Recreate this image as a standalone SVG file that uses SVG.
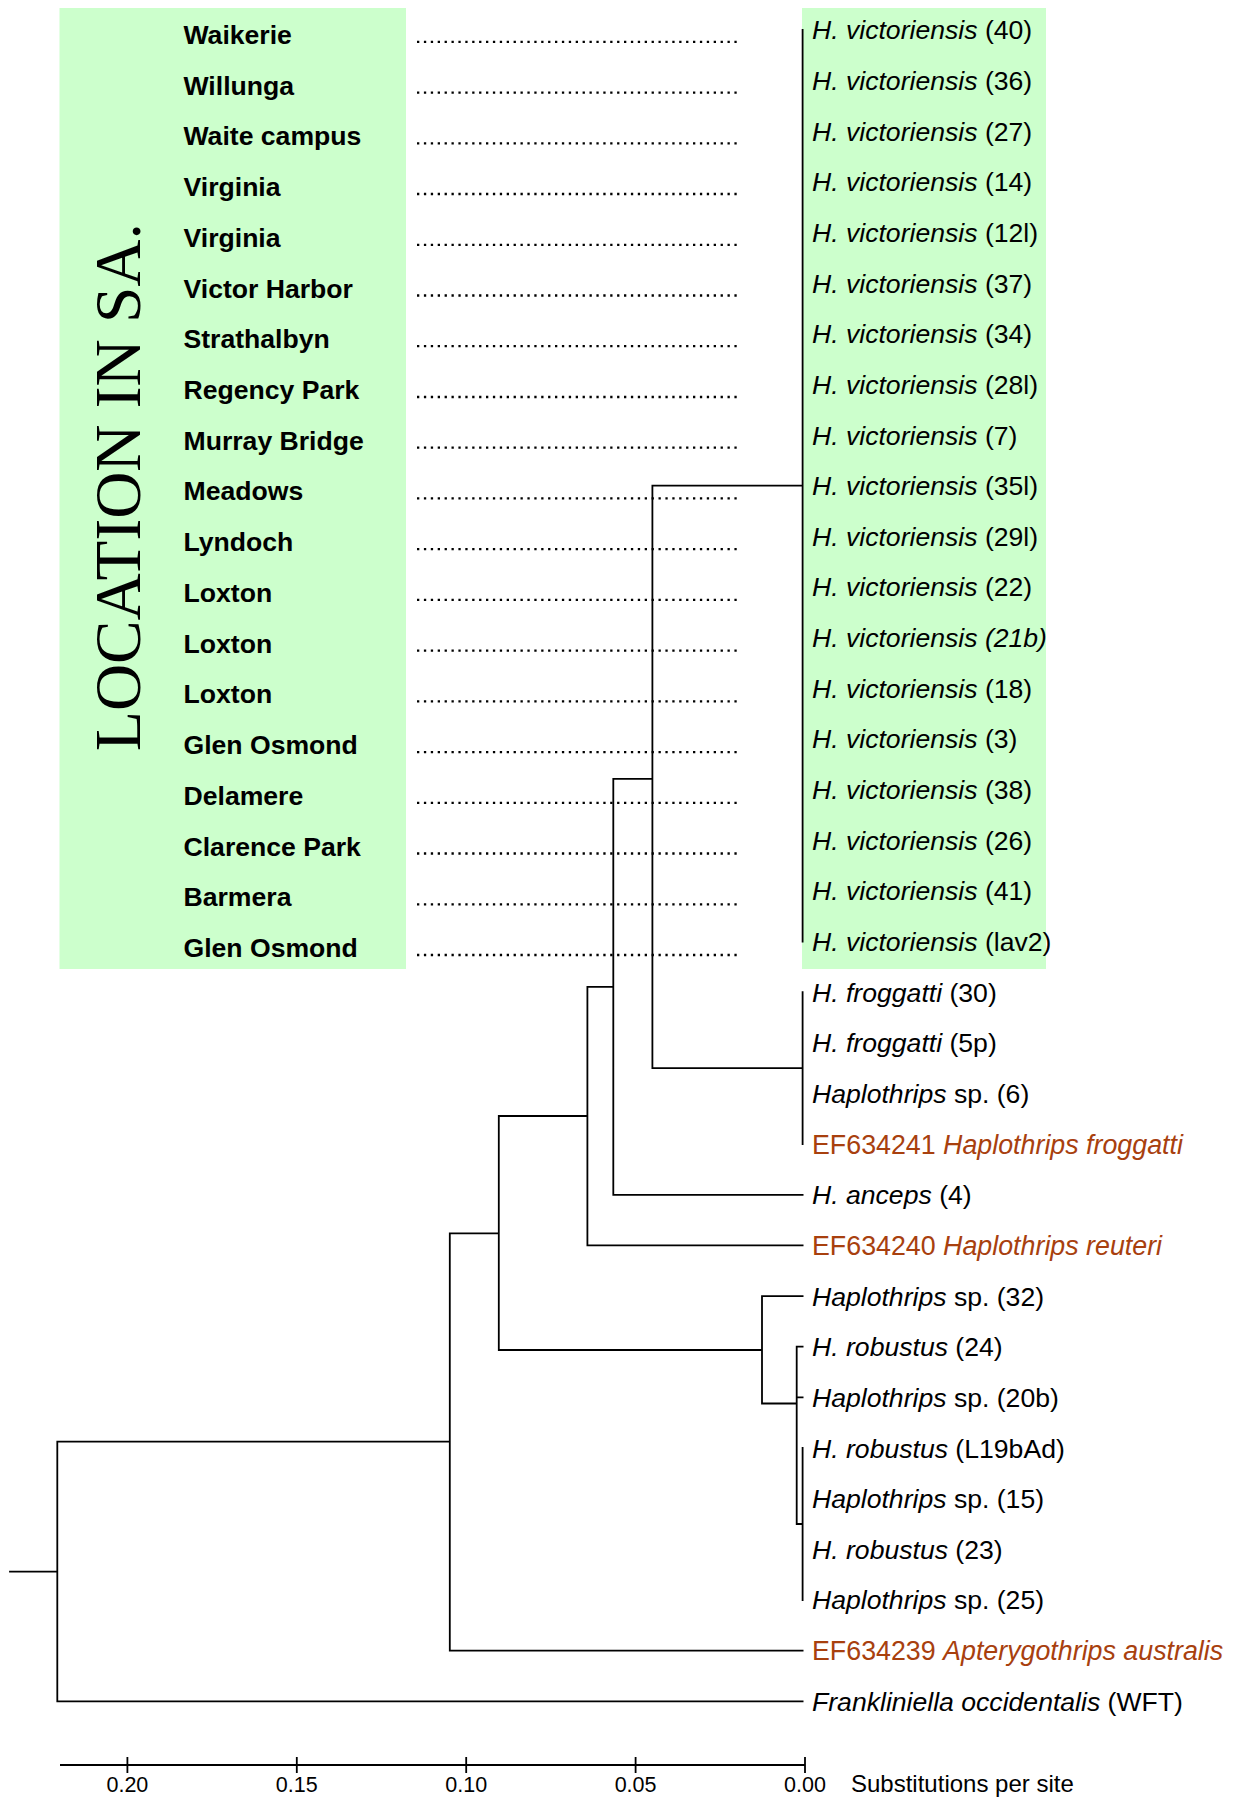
<svg xmlns="http://www.w3.org/2000/svg" width="1240" height="1798" viewBox="0 0 1240 1798">
<style>
.bg{fill:#CCFFCC}
.loc{font-family:"Liberation Sans",Arial,sans-serif;font-size:26.6px;font-weight:bold;fill:#000}
.lab{font-family:"Liberation Sans",Arial,sans-serif;font-size:26.6px;fill:#000}
.red{fill:#A8400E;font-size:26.8px}
.it{font-style:italic}
.title{font-family:"Liberation Serif","Times New Roman",serif;font-size:65.3px;fill:#000}
.dots{stroke:#000;stroke-width:2.3;stroke-dasharray:2.3 4.6;fill:none}
.br{stroke:#000;stroke-width:1.8;fill:none;stroke-linecap:square}
.ax{stroke:#000;stroke-width:1.8;fill:none}
.tick{font-family:"Liberation Sans",Arial,sans-serif;font-size:21.5px;fill:#000;text-anchor:middle}
.axl{font-family:"Liberation Sans",Arial,sans-serif;font-size:24px;fill:#000}
</style>
<rect width="1240" height="1798" fill="#fff"/>
<g id="location-panel">
<rect class="bg" x="59.5" y="8" width="346.5" height="961"/>
<text class="title" transform="translate(139.5,751) rotate(-90)">LOCATION IN SA.</text>
</g>
<g id="species-panel">
<rect class="bg" x="802" y="8" width="244" height="961"/>
</g>
<g id="locations">
<g id="loc0"><text class="loc" x="183.5" y="43.9">Waikerie</text></g>
<g id="loc1"><text class="loc" x="183.5" y="94.6">Willunga</text></g>
<g id="loc2"><text class="loc" x="183.5" y="145.3">Waite campus</text></g>
<g id="loc3"><text class="loc" x="183.5" y="196.0">Virginia</text></g>
<g id="loc4"><text class="loc" x="183.5" y="246.8">Virginia</text></g>
<g id="loc5"><text class="loc" x="183.5" y="297.5">Victor Harbor</text></g>
<g id="loc6"><text class="loc" x="183.5" y="348.2">Strathalbyn</text></g>
<g id="loc7"><text class="loc" x="183.5" y="399.0">Regency Park</text></g>
<g id="loc8"><text class="loc" x="183.5" y="449.7">Murray Bridge</text></g>
<g id="loc9"><text class="loc" x="183.5" y="500.4">Meadows</text></g>
<g id="loc10"><text class="loc" x="183.5" y="551.2">Lyndoch</text></g>
<g id="loc11"><text class="loc" x="183.5" y="601.9">Loxton</text></g>
<g id="loc12"><text class="loc" x="183.5" y="652.6">Loxton</text></g>
<g id="loc13"><text class="loc" x="183.5" y="703.3">Loxton</text></g>
<g id="loc14"><text class="loc" x="183.5" y="754.1">Glen Osmond</text></g>
<g id="loc15"><text class="loc" x="183.5" y="804.8">Delamere</text></g>
<g id="loc16"><text class="loc" x="183.5" y="855.5">Clarence Park</text></g>
<g id="loc17"><text class="loc" x="183.5" y="906.3">Barmera</text></g>
<g id="loc18"><text class="loc" x="183.5" y="957.0">Glen Osmond</text></g>
</g>
<g id="leaders">
<path class="dots" d="M417,41.9H737M417,92.6H737M417,143.3H737M417,194.0H737M417,244.8H737M417,295.5H737M417,346.2H737M417,397.0H737M417,447.7H737M417,498.4H737M417,549.2H737M417,599.9H737M417,650.6H737M417,701.3H737M417,752.1H737M417,802.8H737M417,853.5H737M417,904.3H737M417,955.0H737"/>
</g>
<g id="connectors">
<path class="br" d="M10,1571.7H57.3M57.3,1441.7V1701.3M57.3,1701.3H802.6M57.3,1441.7H449.8
M449.8,1233.3V1650.6M449.8,1650.6H802.6M449.8,1233.3H498.8
M498.8,1116V1350M498.8,1350H762
M762,1296.1V1403.5M762,1296.1H802.6M762,1403.5H796.7
M796.7,1346.7V1524M796.7,1346.7H802.6M796.7,1397.4H802.6M796.7,1524H802.6
M802.6,1448V1600
M498.8,1116H587.4M587.4,986.8V1245.4M587.4,1245.4H802.6M587.4,986.8H613.3
M613.3,778.9V1194.8M613.3,1194.8H802.6M613.3,778.9H652.4
M652.4,485.7V1068.2M652.4,485.7H802.6M652.4,1068.2H802.6
M802.6,29.8V941.5M802.6,992.2V1144.1"/>
</g>
<g id="leaves">
<g id="t0"><text class="lab" x="812" y="39.3"><tspan class="it">H. victoriensis</tspan> (40)</text></g>
<g id="t1"><text class="lab" x="812" y="89.9"><tspan class="it">H. victoriensis</tspan> (36)</text></g>
<g id="t2"><text class="lab" x="812" y="140.6"><tspan class="it">H. victoriensis</tspan> (27)</text></g>
<g id="t3"><text class="lab" x="812" y="191.2"><tspan class="it">H. victoriensis</tspan> (14)</text></g>
<g id="t4"><text class="lab" x="812" y="241.9"><tspan class="it">H. victoriensis</tspan> (12l)</text></g>
<g id="t5"><text class="lab" x="812" y="292.5"><tspan class="it">H. victoriensis</tspan> (37)</text></g>
<g id="t6"><text class="lab" x="812" y="343.2"><tspan class="it">H. victoriensis</tspan> (34)</text></g>
<g id="t7"><text class="lab" x="812" y="393.8"><tspan class="it">H. victoriensis</tspan> (28l)</text></g>
<g id="t8"><text class="lab" x="812" y="444.5"><tspan class="it">H. victoriensis</tspan> (7)</text></g>
<g id="t9"><text class="lab" x="812" y="495.1"><tspan class="it">H. victoriensis</tspan> (35l)</text></g>
<g id="t10"><text class="lab" x="812" y="545.8"><tspan class="it">H. victoriensis</tspan> (29l)</text></g>
<g id="t11"><text class="lab" x="812" y="596.4"><tspan class="it">H. victoriensis</tspan> (22)</text></g>
<g id="t12"><text class="lab" x="812" y="647.1"><tspan class="it">H. victoriensis (21b)</tspan></text></g>
<g id="t13"><text class="lab" x="812" y="697.7"><tspan class="it">H. victoriensis</tspan> (18)</text></g>
<g id="t14"><text class="lab" x="812" y="748.4"><tspan class="it">H. victoriensis</tspan> (3)</text></g>
<g id="t15"><text class="lab" x="812" y="799.0"><tspan class="it">H. victoriensis</tspan> (38)</text></g>
<g id="t16"><text class="lab" x="812" y="849.7"><tspan class="it">H. victoriensis</tspan> (26)</text></g>
<g id="t17"><text class="lab" x="812" y="900.3"><tspan class="it">H. victoriensis</tspan> (41)</text></g>
<g id="t18"><text class="lab" x="812" y="951.0"><tspan class="it">H. victoriensis</tspan> (lav2)</text></g>
<g id="t19"><text class="lab" x="812" y="1001.6"><tspan class="it">H. froggatti</tspan> (30)</text></g>
<g id="t20"><text class="lab" x="812" y="1052.3"><tspan class="it">H. froggatti</tspan> (5p)</text></g>
<g id="t21"><text class="lab" x="812" y="1102.9"><tspan class="it">Haplothrips</tspan> sp. (6)</text></g>
<g id="t22"><text class="lab red" x="812" y="1153.6">EF634241 <tspan class="it">Haplothrips froggatti</tspan></text></g>
<g id="t23"><text class="lab" x="812" y="1204.2"><tspan class="it">H. anceps</tspan> (4)</text></g>
<g id="t24"><text class="lab red" x="812" y="1254.9">EF634240 <tspan class="it">Haplothrips reuteri</tspan></text></g>
<g id="t25"><text class="lab" x="812" y="1305.5"><tspan class="it">Haplothrips</tspan> sp. (32)</text></g>
<g id="t26"><text class="lab" x="812" y="1356.2"><tspan class="it">H. robustus</tspan> (24)</text></g>
<g id="t27"><text class="lab" x="812" y="1406.8"><tspan class="it">Haplothrips</tspan> sp. (20b)</text></g>
<g id="t28"><text class="lab" x="812" y="1457.5"><tspan class="it">H. robustus</tspan> (L19bAd)</text></g>
<g id="t29"><text class="lab" x="812" y="1508.1"><tspan class="it">Haplothrips</tspan> sp. (15)</text></g>
<g id="t30"><text class="lab" x="812" y="1558.8"><tspan class="it">H. robustus</tspan> (23)</text></g>
<g id="t31"><text class="lab" x="812" y="1609.4"><tspan class="it">Haplothrips</tspan> sp. (25)</text></g>
<g id="t32"><text class="lab red" x="812" y="1660.1">EF634239 <tspan class="it">Apterygothrips australis</tspan></text></g>
<g id="t33"><text class="lab" x="812" y="1710.7"><tspan class="it">Frankliniella occidentalis</tspan> (WFT)</text></g>
</g>
<g id="scale-axis">
<path class="ax" d="M60,1765H805M127.4,1757V1773M296.8,1757V1773M466.2,1757V1773M635.6,1757V1773M805,1757V1773"/>
<text class="tick" x="127.4" y="1792">0.20</text>
<text class="tick" x="296.8" y="1792">0.15</text>
<text class="tick" x="466.2" y="1792">0.10</text>
<text class="tick" x="635.6" y="1792">0.05</text>
<text class="tick" x="805" y="1792">0.00</text>
<text class="axl" x="851" y="1792">Substitutions per site</text>
</g>
</svg>
